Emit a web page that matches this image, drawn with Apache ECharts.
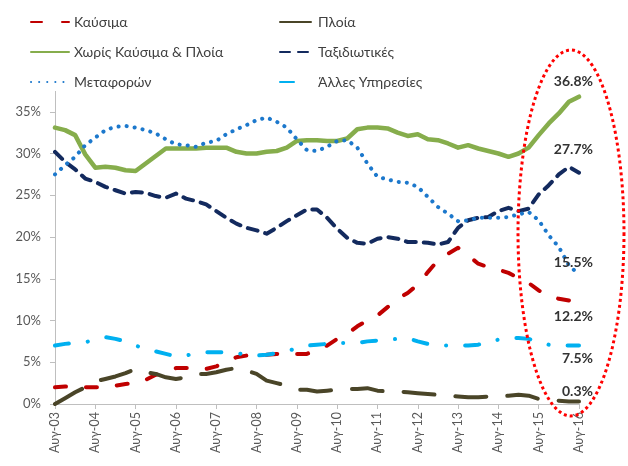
<!DOCTYPE html>
<html>
<head>
<meta charset="utf-8">
<script src="https://cdn.jsdelivr.net/npm/echarts@6/dist/echarts.min.js"></script>
<style>html,body{margin:0;padding:0;background:#fff}#c{width:628px;height:466px}</style>
</head>
<body>
<div id="c"></div>
<script>
// Quarterly observations, Aug-03 .. Aug-16
var monthNames = ['Αυγ', 'Νοε', 'Φεβ', 'Μαϊ'];
var categories = [];
for (var i = 0; i < 53; i++) {
  var base = 3 + Math.floor(i / 4);
  var y = (i % 4 >= 2) ? base + 1 : base;
  categories.push(monthNames[i % 4] + '-' + (y < 10 ? '0' + y : '' + y));
}
var yTicks = [0, 5, 10, 15, 20, 25, 30, 35];

var kausima = [2.0,2.1,2.0,2.0,2.0,2.0,2.2,2.4,2.5,2.9,3.5,3.8,4.3,4.3,4.3,4.2,4.5,5.1,5.6,5.8,5.8,5.9,6.0,5.9,6.0,6.0,6.5,7.0,7.8,8.4,9.3,10.0,10.6,11.6,12.6,13.3,14.3,15.8,17.2,18.0,18.7,17.8,16.8,16.4,16.1,15.7,15.1,14.5,13.6,13.0,12.6,12.4,12.2];
var ploia = [0.0,0.7,1.4,2.0,2.7,3.0,3.3,3.7,4.2,3.8,3.6,3.2,3.0,3.2,3.6,3.6,3.8,4.1,4.3,4.0,3.6,2.8,2.5,2.2,1.7,1.7,1.5,1.6,1.7,1.8,1.8,1.9,1.6,1.5,1.5,1.4,1.3,1.2,1.1,1.0,0.9,0.8,0.8,0.9,0.9,1.0,1.1,1.0,0.6,0.5,0.4,0.3,0.3];
var xoris = [33.1,32.8,32.2,29.9,28.3,28.4,28.3,28.0,27.9,28.8,29.7,30.6,30.6,30.6,30.6,30.7,30.7,30.7,30.2,30.0,30.0,30.2,30.3,30.7,31.5,31.6,31.6,31.5,31.5,31.8,32.9,33.1,33.1,33.0,32.5,32.1,32.3,31.7,31.6,31.2,30.7,31.0,30.6,30.3,30.0,29.6,30.0,30.7,32.2,33.6,34.8,36.2,36.8];
var taxid = [30.2,29.0,28.1,27.0,26.6,26.0,25.6,25.2,25.4,25.3,24.9,24.7,25.2,24.6,24.3,23.9,23.1,22.3,21.6,21.1,20.8,20.4,21.1,21.9,22.6,23.3,23.3,22.3,21.0,19.9,19.3,19.2,19.8,20.0,19.8,19.4,19.4,19.3,19.1,19.4,21.1,22.0,22.3,22.4,23.1,23.5,23.1,23.4,25.1,26.2,27.5,28.4,27.7];
var metafor = [27.5,28.6,29.6,31.0,31.9,32.8,33.2,33.3,33.1,32.8,32.4,31.7,31.1,31.0,30.8,31.3,31.5,32.3,32.9,33.4,34.0,34.3,33.8,33.1,31.7,30.4,30.3,30.8,31.5,31.6,30.7,28.8,27.2,26.9,26.6,26.5,26.0,24.8,23.6,22.8,21.9,22.0,22.3,22.3,22.3,22.4,22.7,23.0,22.0,20.2,18.8,16.6,15.5];
var alles = [7.0,7.2,7.3,7.4,7.7,8.0,7.8,7.5,7.0,6.6,6.3,6.0,5.7,5.8,6.1,6.2,6.2,6.2,6.1,5.9,5.8,5.9,6.1,6.3,6.7,7.0,7.1,7.2,7.3,7.3,7.3,7.5,7.6,7.7,7.8,7.9,7.5,7.2,7.0,7.0,7.0,7.0,7.1,7.5,7.7,7.9,7.9,7.8,7.4,7.1,7.0,7.0,7.0];

var annotLabels = ['36.8%', '27.7%', '15.5%', '12.2%', '7.5%', '0.3%'];
var annotY = [81, 149, 262, 316, 358, 391];

var chart = echarts.init(document.getElementById('c'), null, {renderer: 'canvas'});
var FONT = 'Lato, "Liberation Sans", sans-serif';

function mkSeries(name, data, color, width, dash) {
  return {
    name: name, type: 'line', data: data, symbol: 'none', smooth: false,
    lineStyle: {color: color, width: width, type: dash, cap: 'round', join: 'round'},
    itemStyle: {color: 'rgba(0,0,0,0)', borderWidth: 0},
    emphasis: {disabled: true}
  };
}

// ellipse annotation
var ell = [];
var cx = 571, cy = 233, rx = 53, ry = 183;
for (var k = 0; k < 120; k++) {
  var a = k / 120 * Math.PI * 2;
  ell.push([cx + rx * Math.cos(a), cy + ry * Math.sin(a)]);
}

var graphics = [{
  type: 'polygon', z: 100, shape: {points: ell},
  style: {fill: null, stroke: '#FF0000', lineWidth: 3, lineDash: [3, 3]}
}];
for (var j = 0; j < annotLabels.length; j++) {
  graphics.push({
    type: 'text', z: 101, x: 593, y: annotY[j],
    style: {text: annotLabels[j], fill: '#333333', font: 'bold 14px ' + FONT, textAlign: 'right', textVerticalAlign: 'middle'}
  });
}

var legendCommon = {
  orient: 'vertical', itemHeight: 14, itemGap: 16, backgroundColor: '#ffffff',
  padding: [5, 5, 2, 2], z: 50,
  textStyle: {color: '#404040', fontSize: 14, fontFamily: FONT}
};

chart.setOption({
  animation: false,
  backgroundColor: '#ffffff',
  textStyle: {fontFamily: FONT},
  grid: {left: 55, right: 49, top: 70, bottom: 62, containLabel: false},
  legend: [
    Object.assign({}, legendCommon, {left: 28, top: 10, itemWidth: 38, data: ['Καύσιμα', 'Χωρίς Καύσιμα & Πλοία', 'Μεταφορών']}),
    Object.assign({}, legendCommon, {left: 277, top: 10, itemWidth: 33, data: ['Πλοία', 'Ταξιδιωτικές', 'Άλλες Υπηρεσίες']})
  ],
  xAxis: {
    type: 'category', data: categories, boundaryGap: false,
    axisLine: {lineStyle: {color: '#BFBFBF', width: 1}},
    axisTick: {show: true, interval: 3, length: 5, lineStyle: {color: '#BFBFBF'}},
    axisLabel: {interval: 3, rotate: 90, color: '#595959', fontSize: 12.5, margin: 8, fontFamily: FONT},
    splitLine: {show: false}
  },
  yAxis: {
    type: 'value', min: 0, max: 40, interval: 5,
    axisLine: {show: true, lineStyle: {color: '#BFBFBF', width: 1}},
    axisTick: {show: true, length: 5, lineStyle: {color: '#BFBFBF'}},
    axisLabel: {color: '#595959', fontSize: 13, margin: 14, fontFamily: FONT,
      formatter: function (v) { return yTicks.indexOf(v) >= 0 ? v + '%' : ''; }},
    splitLine: {show: false}
  },
  series: [
    mkSeries('Καύσιμα', kausima, '#C00000', 4, [11, 20]),
    mkSeries('Πλοία', ploia, '#4A4528', 4, [31, 21]),
    mkSeries('Χωρίς Καύσιμα & Πλοία', xoris, '#86AD4C', 4.5, 'solid'),
    mkSeries('Ταξιδιωτικές', taxid, '#132A5E', 4, [10, 8]),
    mkSeries('Μεταφορών', metafor, '#1C78CC', 4, [0.1, 8]),
    mkSeries('Άλλες Υπηρεσίες', alles, '#00B0F0', 4, [14, 19, 0.1, 19])
  ],
  graphic: graphics
});
</script>
</body>
</html>
